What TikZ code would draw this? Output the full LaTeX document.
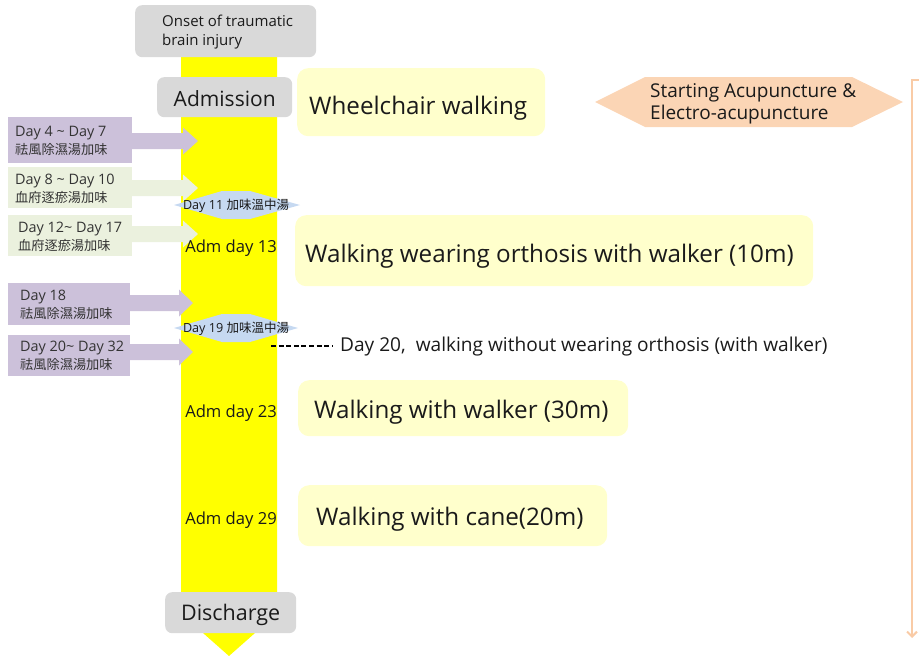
\documentclass[tikz,border=0pt]{standalone}
\usepackage{fontspec}
\setmainfont{Open Sans}
\newfontfamily\cjk{Noto Sans CJK KR}
\usetikzlibrary{arrows.meta}
\definecolor{grayb}{HTML}{D9D9D9}
\definecolor{ylw}{HTML}{FFFF00}
\definecolor{lyl}{HTML}{FFFFCC}
\definecolor{purp}{HTML}{CCC1DA}
\definecolor{grn}{HTML}{EBF1DE}
\definecolor{lblue}{HTML}{C6D9F1}
\definecolor{peach}{HTML}{FBD5B5}
\definecolor{peachline}{HTML}{F9CBA6}
\definecolor{txt}{HTML}{1A1A1A}
\definecolor{ltxt}{HTML}{333333}
\newcommand{\lcjk}[1]{{\cjk\fontsize{13.2}{18}\selectfont #1}}
\newcommand{\dcjk}[1]{{\cjk\fontsize{12.5}{14}\selectfont #1}}
\begin{document}
\begin{tikzpicture}[x=1pt,y=-1pt,
  gbox/.style={fill=grayb, rounded corners=7, inner sep=0, anchor=north west},
  ybox/.style={fill=lyl, rounded corners=11, inner sep=0, anchor=north west},
  lbox/.style={inner sep=0, anchor=north west, minimum width=124},
  ltext/.style={text=ltxt, inner sep=0, anchor=west, align=left, font=\fontsize{14.4}{18}\selectfont},
  ttext/.style={text=txt, inner sep=0, anchor=west},
  big/.style={font=\fontsize{24.2}{28}\selectfont},
  adm/.style={text=txt, inner sep=0, font=\fontsize{16.6}{19}\selectfont},
  hexfill/.style={fill=lblue},
  dlabel/.style={text=txt, inner sep=0, font=\fontsize{12.6}{14}\selectfont},
]
\useasboundingbox (0,0) rectangle (919,656);
% central timeline arrow
\fill[ylw] (181,55) -- (277,55) -- (277,610) -- (281,610) -- (229,656) -- (177,610) -- (181,610) -- cycle;

% top boxes
\node[gbox, minimum width=181, minimum height=52] (onset) at (135,5) {};
\node[ttext, align=left, font=\fontsize{15}{19}\selectfont] (onsetT) at (162,32) {Onset of traumatic\\brain injury};
\node[gbox, minimum width=135, minimum height=40] (adm) at (157,77) {};
\node[text=txt, inner sep=0, font=\fontsize{21}{24}\selectfont] (admT) at ([yshift=-1.5]adm.center) {Admission};
\node[gbox, minimum width=131, minimum height=41] (dis) at (165,592) {};
\node[text=txt, inner sep=0, font=\fontsize{21.5}{24}\selectfont] (disT) at ([yshift=-2]dis.center) {Discharge};

% left herbal boxes with block arrows
\node[lbox, fill=purp, minimum height=46] (L1) at (8,117) {};
\fill[purp] (132,133) -- (183,133) -- (183,127.5) -- (198,141) -- (183,154.5) -- (183,149) -- (132,149) -- cycle;
\node[ltext] (L1T) at (15,141) {Day 4 \textasciitilde{} Day 7\\\lcjk{祛風除濕湯加味}};

\node[lbox, fill=grn, minimum height=41] (L2) at (8,167) {};
\fill[grn] (132,180) -- (183,180) -- (183,174.5) -- (198,188) -- (183,201.5) -- (183,196) -- (132,196) -- cycle;
\node[ltext] (L2T) at (15,188.5) {Day 8 \textasciitilde{} Day 10\\\lcjk{血府逐瘀湯加味}};

\node[lbox, fill=grn, minimum height=41] (L3) at (8,215) {};
\fill[grn] (132,226) -- (183,226) -- (183,220.5) -- (198,234) -- (183,247.5) -- (183,242) -- (132,242) -- cycle;
\node[ltext] (L3T) at (18,236.5) {Day 12\textasciitilde{} Day 17\\\lcjk{血府逐瘀湯加味}};

\node[lbox, fill=purp, minimum height=42, minimum width=122] (L4) at (8,283) {};
\fill[purp] (130,295) -- (179,295) -- (179,289.5) -- (193,303) -- (179,316.5) -- (179,311) -- (130,311) -- cycle;
\node[ltext] (L4T) at (20,304.5) {Day 18\\\lcjk{祛風除濕湯加味}};

\node[lbox, fill=purp, minimum height=41, minimum width=122] (L5) at (8,335) {};
\fill[purp] (130,344) -- (179,344) -- (179,338.5) -- (193,352) -- (179,365.5) -- (179,360) -- (130,360) -- cycle;
\node[ltext] (L5T) at (20,355.5) {Day 20\textasciitilde{} Day 32\\\lcjk{祛風除濕湯加味}};

% diamonds
\fill[hexfill] (174,205) -- (222,191) -- (250,191) -- (300,205) -- (250,219) -- (222,219) -- cycle;
\node[dlabel] (D11) at (236,206) {Day 11 \dcjk{加味溫中湯}};
\fill[hexfill] (174,328) -- (222,314) -- (250,314) -- (298,328) -- (250,342) -- (222,342) -- cycle;
\node[dlabel] (D19) at (236,329) {Day 19 \dcjk{加味溫中湯}};

% adm day labels
\node[adm] (A13) at (231,248) {Adm day 13};
\node[adm] (A23) at (231,413) {Adm day 23};
\node[adm] (A29) at (231,520) {Adm day 29};

% right yellow boxes
\node[ybox, minimum width=248, minimum height=68] (Y1) at (297,68) {};
\node[ttext, big] (Y1T) at (309,108) {Wheelchair walking};
\node[ybox, minimum width=518, minimum height=71] (Y2) at (295,215) {};
\node[ttext, big] (Y2T) at (305,256) {Walking wearing orthosis with walker (10m)};
\node[ybox, minimum width=330, minimum height=56] (Y3) at (298,380) {};
\node[ttext, big] (Y3T) at (314,412) {Walking with walker (30m)};
\node[ybox, minimum width=309, minimum height=61] (Y4) at (298,485) {};
\node[ttext, big] (Y4T) at (316,519) {Walking with cane(20m)};

% day 20 note
\coordinate (d20) at (271,346);
\node[ttext, font=\fontsize{19.1}{22}\selectfont] (N20) at (340,347) {Day 20,\ \ walking without wearing orthosis (with walker)};
\draw[black, line width=1.3, dash pattern=on 5pt off 2.6pt] (d20) -- ([xshift=-7]N20.west |- d20);

% acupuncture
\fill[peach] (595,102) -- (645,77) -- (852,77) -- (903,102) -- (852,127) -- (645,127) -- cycle;
\node[ttext, align=left, font=\fontsize{19}{22}\selectfont] (acu) at (650,104) {Starting Acupuncture \&\\Electro-acupuncture};
\coordinate (brTop) at (919,80);
\coordinate (brBot) at (912,638);
\draw[peachline, line width=2, -{Straight Barb[length=5pt,width=10pt]}] (brTop) -- (912,80) -- (brBot);
\end{tikzpicture}
\end{document}
